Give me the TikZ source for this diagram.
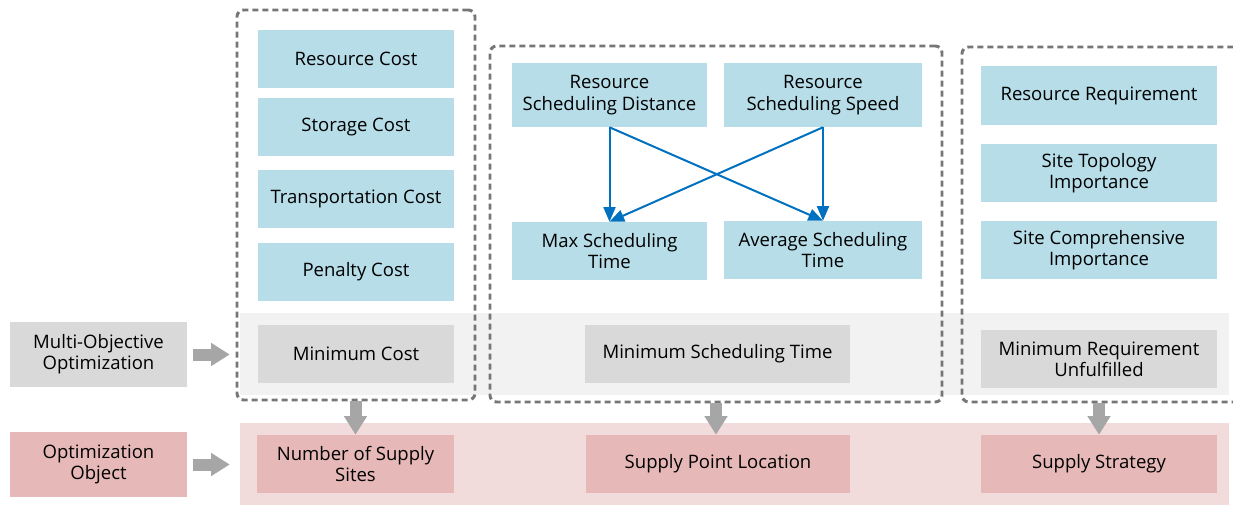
\documentclass[tikz,border=0pt]{standalone}
\usepackage{fontspec}
\setmainfont{Open Sans}
\usetikzlibrary{arrows.meta}
\definecolor{boxblue}{RGB}{182,221,232}
\definecolor{boxgray}{RGB}{217,217,217}
\definecolor{bandgray}{RGB}{242,242,242}
\definecolor{bandpink}{RGB}{242,220,219}
\definecolor{boxpink}{RGB}{230,185,184}
\definecolor{arrowgray}{RGB}{166,166,166}
\definecolor{dashgray}{RGB}{118,118,118}
\definecolor{linkblue}{RGB}{0,112,192}
\begin{document}
\begin{tikzpicture}[x=0.75pt,y=-0.75pt,
  box/.style={rectangle, inner sep=0pt, align=center, text=black,
    font=\fontsize{13.9}{16}\selectfont},
  sz/.style 2 args={minimum width=#1*0.75pt, minimum height=#2*0.75pt},
  bluebox/.style={box, fill=boxblue},
  graybox/.style={box, fill=boxgray},
  pinkbox/.style={box, fill=boxpink},
  band/.style={rectangle, inner sep=0pt},
  dashbox/.style={rectangle, inner sep=0pt, draw=dashgray, line width=2.2pt,
    dash pattern=on 4.5pt off 3pt, rounded corners=5pt},
  bigarrow/.style={draw=arrowgray, line width=9pt,
    -{Triangle[length=14pt, width=16.5pt]}},
  link/.style={draw=linkblue, line width=1.5pt,
    -{Triangle[length=11pt, width=9pt]}}
]
\useasboundingbox (0,0) rectangle (1233,504);

% bands
\node[band, fill=bandgray, sz={989}{82}] (gband) at (734.5,354) {};
\node[band, fill=bandpink, sz={989}{82}] (pband) at (734.5,464) {};

% left labels
\node[graybox, sz={177}{65}] (mo) at (98.5,354.5) {Multi-Objective\\Optimization};
\node[pinkbox, sz={177}{65}] (oo) at (98.5,464.5) {Optimization\\Object};

% column 1
\node[bluebox, sz={196}{58}] (rc) at (356,59) {Resource Cost};
\node[bluebox, sz={196}{58}] (sc) at (356,127) {Storage Cost};
\node[bluebox, sz={196}{58}] (tc) at (356,199) {Transportation Cost};
\node[bluebox, sz={196}{58}] (pc) at (356,271.5) {Penalty Cost};
\node[graybox, sz={196}{58}] (mc) at (356,354) {Minimum Cost};

% column 2
\node[bluebox, sz={195}{64}] (rsd) at (609.5,95) {Resource\\Scheduling Distance};
\node[bluebox, sz={198}{64}] (rss) at (823,95) {Resource\\Scheduling Speed};
\node[bluebox, sz={195}{58}] (mst) at (609.5,251) {Max Scheduling\\Time};
\node[bluebox, sz={198}{58}] (ast) at (823,250) {Average Scheduling\\Time};
\node[graybox, sz={265}{58}] (mstime) at (717.5,354) {Minimum Scheduling Time};

% column 3
\node[bluebox, sz={236}{59}] (rr) at (1099,95.5) {Resource Requirement};
\node[bluebox, sz={236}{58}] (sti) at (1099,173) {Site Topology\\Importance};
\node[bluebox, sz={236}{58}] (sci) at (1099,250) {Site Comprehensive\\Importance};
\node[graybox, sz={236}{58}] (mru) at (1099,359) {Minimum Requirement\\Unfulfilled};

% bottom row
\node[pinkbox, sz={197}{58}] (nss) at (355.5,464) {Number of Supply\\Sites};
\node[pinkbox, sz={264}{58}] (spl) at (718,464) {Supply Point Location};
\node[pinkbox, sz={236}{58}] (ss) at (1099,464) {Supply Strategy};

% dashed groups
\node[dashbox, sz={238}{390}] (d1) at (356,205) {};
\node[dashbox, sz={452}{356}] (d2) at (716,224) {};
\node[dashbox, sz={278}{355}] (d3) at (1101,224.5) {};

% blue links
\draw[link] (rsd.south) -- (mst.north);
\draw[link] (rsd.south) -- (ast.north);
\draw[link] (rss.south) -- (ast.north);
\draw[link] (rss.south) -- (mst.north);

% big gray arrows
\draw[bigarrow, shorten <=4.5pt, shorten >=7.5pt] (mo.east) -- (mo.east -| gband.west);
\draw[bigarrow, shorten <=4.5pt, shorten >=7.5pt] (oo.east) -- (oo.east -| pband.west);
\draw[bigarrow] (d1.south -| nss.north) -- (nss.north);
\draw[bigarrow] (d2.south) -- (d2.south |- spl.north);
\draw[bigarrow] (d3.south -| ss.north) -- (ss.north);
\end{tikzpicture}
\end{document}
